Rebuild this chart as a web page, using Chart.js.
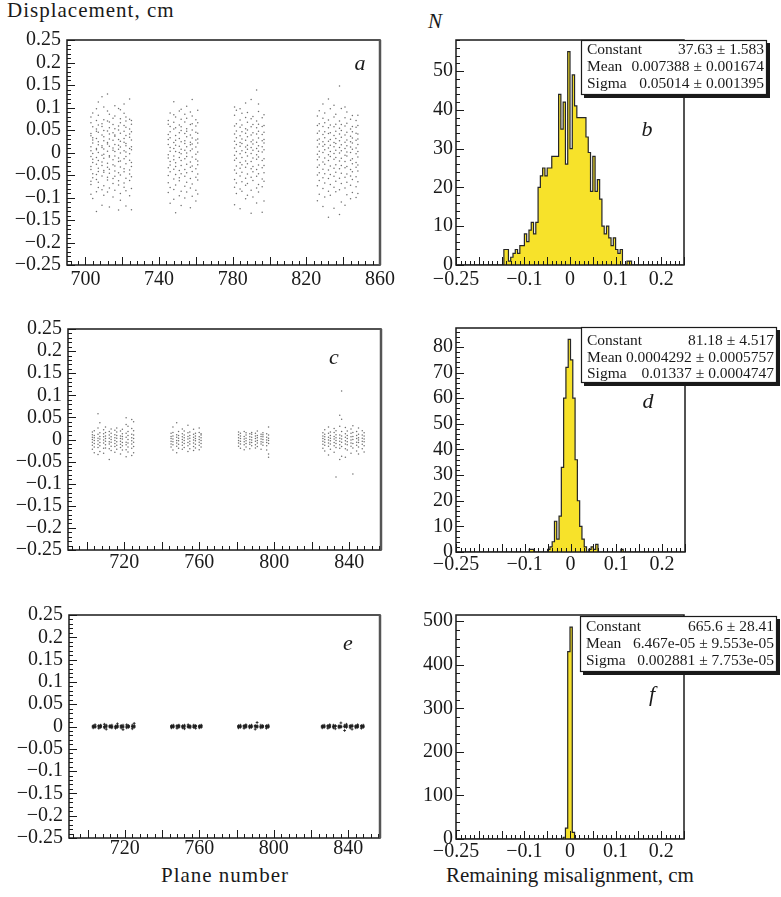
<!DOCTYPE html>
<html>
<head>
<meta charset="utf-8">
<script src="https://cdn.jsdelivr.net/npm/chart.js@4.4.0/dist/chart.umd.min.js"></script>
<style>
  body { margin: 0; width: 781px; height: 897px; position: relative; overflow: hidden; background: #fff;
         font-family: 'Liberation Serif', 'Times New Roman', serif; color: #1a1a1a; }
  canvas { position: absolute; }
  .lbl { position: absolute; font-size: 21px; line-height: 21px; white-space: nowrap; }
</style>
</head>
<body>
<div class="lbl" style="left:7px;top:0px;letter-spacing:1px">Displacement, cm</div>
<div class="lbl" style="left:428px;top:11px;font-style:italic">N</div>
<div class="lbl" style="left:0;width:450px;text-align:center;top:865px;letter-spacing:1px">Plane number</div>
<div class="lbl" style="left:400px;width:340px;text-align:center;top:865px">Remaining misalignment, cm</div>

<canvas id="pa" width="400" height="300" style="left:0;top:0"></canvas>
<canvas id="pb" width="381" height="300" style="left:400px;top:0"></canvas>
<canvas id="pc" width="400" height="290" style="left:0;top:300px"></canvas>
<canvas id="pd" width="381" height="290" style="left:400px;top:300px"></canvas>
<canvas id="pe" width="400" height="270" style="left:0;top:590px"></canvas>
<canvas id="pf" width="381" height="270" style="left:400px;top:590px"></canvas>

<script>
// plane numbers of the measured columns (same planes in a, c, e)
const planes = [
  703, 704, 706, 707, 709, 710, 712, 713, 715, 716, 718, 719, 721, 722, 724, 725,
  745, 746, 748, 749, 751, 752, 754, 755, 757, 758, 760, 761,
  781, 782, 784, 785, 787, 788, 790, 791, 793, 794, 796, 797,
  826, 827, 829, 830, 832, 833, 835, 836, 838, 839, 841, 842, 844, 845, 847, 848
];

// displacements per plane, in units of 0.001 cm
// (a) before alignment
const dispA = [
  [-93, -71, -64, -38, -31, -9, 4, 13, 37, 42, 66, 79],
  [-102, -56, -47, -22, -15, -2, 21, 28, 33, 57, 88],
  [-131, -87, -60, -49, -26, -11, 6, 9, 31, 47, 52, 71, 97],
  [-78, -66, -42, -35, -18, 0, 17, 24, 45, 61, 83, 112],
  [-117, -83, -52, -29, -21, -6, 11, 15, 39, 58, 64, 124],
  [-95, -74, -44, -40, -13, -4, 8, 26, 35, 49, 73, 101],
  [-88, -61, -55, -33, -24, 3, 19, 22, 48, 70, 92, 130],
  [-121, -79, -46, -37, -10, -7, 14, 30, 41, 55, 68, 85],
  [-99, -69, -58, -27, -16, 5, 10, 27, 44, 62, 76],
  [-84, -53, -41, -30, -8, 2, 18, 36, 39, 53, 81, 104],
  [-128, -72, -63, -45, -20, -12, 7, 16, 29, 50, 59, 98],
  [-106, -91, -50, -32, -19, -1, 12, 25, 43, 66, 75, 95],
  [-77, -68, -43, -36, -14, 4, 23, 31, 47, 60, 87, 108],
  [-119, -85, -57, -25, -9, 1, 15, 20, 38, 56, 70, 79],
  [-96, -62, -48, -39, -17, -3, 9, 34, 41, 52, 74, 119],
  [-127, -80, -54, -31, -22, 6, 13, 28, 46, 63, 71],
  [-89, -67, -51, -34, -12, -5, 18, 29, 40, 63, 71],
  [-113, -78, -43, -28, -20, 3, 11, 33, 46, 58, 88],
  [-104, -82, -59, -37, -16, -8, 9, 22, 52, 67, 84, 113],
  [-134, -72, -49, -31, -23, 2, 16, 27, 38, 55, 79],
  [-96, -63, -56, -40, -11, 0, 14, 31, 44, 61, 92],
  [-118, -86, -47, -29, -18, -3, 7, 24, 49, 57, 74, 96],
  [-101, -75, -53, -38, -14, 5, 20, 26, 42, 68, 85],
  [-88, -66, -45, -26, -9, -1, 13, 35, 47, 53, 76, 103],
  [-123, -79, -58, -33, -21, 4, 17, 23, 39, 62, 90],
  [-97, -70, -42, -30, -10, 8, 19, 32, 50, 64, 81, 118],
  [-108, -84, -55, -36, -15, -4, 12, 28, 45, 59, 73],
  [-92, -61, -48, -27, -19, 1, 21, 30, 43, 66, 94],
  [-116, -77, -60, -39, -17, -6, 10, 25, 41, 59, 83, 101],
  [-91, -68, -46, -30, -13, 2, 18, 33, 48, 64, 94],
  [-125, -81, -52, -35, -22, -3, 14, 22, 37, 56, 72, 97],
  [-86, -65, -44, -27, -11, 4, 20, 30, 46, 61, 87],
  [-103, -73, -57, -33, -19, 0, 12, 27, 43, 53, 78, 110],
  [-95, -69, -48, -25, -8, 7, 16, 35, 50, 67, 89],
  [-135, -84, -55, -36, -20, -2, 11, 24, 39, 57, 75, 118],
  [-99, -62, -43, -31, -12, 5, 19, 28, 44, 62, 80],
  [-112, -79, -53, -38, -15, -5, 9, 23, 41, 55, 70, 139],
  [-88, -71, -47, -28, -10, 3, 15, 32, 47, 63, 91, 108],
  [-133, -76, -59, -34, -18, 1, 13, 26, 40, 58, 77],
  [-108, -64, -45, -29, -14, 6, 21, 29, 45, 60, 84],
  [-107, -74, -50, -33, -16, -4, 12, 27, 43, 60, 81],
  [-93, -62, -45, -28, -10, 3, 19, 30, 48, 64, 93],
  [-120, -80, -56, -37, -21, 0, 14, 24, 40, 58, 76, 108],
  [-99, -68, -47, -26, -12, 6, 18, 33, 46, 66, 88],
  [-144, -86, -58, -39, -18, -5, 10, 25, 42, 55, 72, 119],
  [-95, -71, -49, -30, -9, 2, 16, 29, 44, 61, 97],
  [-124, -77, -53, -35, -15, -2, 13, 22, 38, 57, 79, 105],
  [-87, -64, -44, -27, -11, 5, 20, 31, 47, 63, 85],
  [-138, -83, -57, -36, -19, -1, 11, 26, 41, 54, 70, 148],
  [-110, -69, -46, -29, -13, 4, 17, 34, 49, 62, 98],
  [-117, -79, -55, -34, -20, -6, 9, 23, 39, 59, 77, 101],
  [-94, -66, -48, -31, -8, 1, 15, 28, 45, 65, 90],
  [-103, -73, -52, -38, -17, 0, 12, 24, 36, 52, 74],
  [-89, -60, -43, -25, -14, 7, 21, 32, 46, 58, 82],
  [-100, -76, -54, -33, -22, -3, 10, 27, 43, 56, 71],
  [-91, -65, -41, -28, -10, 2, 18, 30, 41, 60, 83]
];

// (c) after the first iteration
const dispC = [
  [-22, -13, -6, 0, 5, 11, 17],
  [-30, -17, -9, -2, 4, 9, 20],
  [-34, -18, -11, -3, 3, 12, 26, 58],
  [-27, -14, -7, 1, 7, 15, 38],
  [-31, -20, -8, -1, 6, 13, 22],
  [-19, -12, -4, 2, 8, 16, 28],
  [-45, -21, -10, -5, 3, 10, 18],
  [-25, -15, -6, 0, 6, 14, 24],
  [-29, -16, -9, -2, 4, 11, 21],
  [-22, -13, -5, 3, 9, 17, 26],
  [-33, -18, -11, -4, 2, 8, 19],
  [-24, -14, -7, 1, 7, 13, 23],
  [-39, -23, -12, -6, 5, 14, 34, 49],
  [-28, -17, -8, 0, 9, 18, 30],
  [-36, -20, -10, -3, 4, 12, 25, 45],
  [-30, -16, -6, 2, 10, 20, 40],
  [-17, -10, -4, 2, 7, 14],
  [-24, -12, -5, 1, 8, 16, 28],
  [-30, -15, -8, -2, 5, 11, 38],
  [-20, -11, -3, 3, 9, 18],
  [-22, -13, -6, 0, 6, 13, 24],
  [-18, -9, -2, 4, 10, 19],
  [-27, -14, -7, 1, 7, 15, 32],
  [-21, -10, -4, 3, 9, 17],
  [-25, -16, -8, -1, 5, 12, 23],
  [-19, -11, -3, 2, 8, 14],
  [-23, -13, -6, 0, 6, 16, 26],
  [-17, -9, -2, 4, 10, 13],
  [-15, -8, -2, 4, 11, 17],
  [-20, -10, -4, 2, 8, 14],
  [-23, -12, -5, 1, 7, 18],
  [-17, -9, -3, 3, 10, 15],
  [-21, -11, -6, 0, 6, 13],
  [-14, -7, -1, 5, 12, 16],
  [-19, -12, -4, 2, 8, 14],
  [-16, -8, -2, 4, 9, 19],
  [-22, -10, -5, 1, 7, 12],
  [-13, -6, 0, 6, 11, 15],
  [-24, -14, -7, -1, 5, 13],
  [-40, -33, -9, -2, 3, 10, 28],
  [-20, -11, -4, 2, 8, 15],
  [-26, -13, -6, 0, 6, 12, 22],
  [-35, -15, -8, -1, 5, 14, 28],
  [-22, -10, -3, 3, 9, 17],
  [-29, -14, -7, 1, 7, 16, 25],
  [-85, -18, -9, -2, 4, 11, 20],
  [-45, -20, -12, -4, 3, 10, 30, 55],
  [-38, -16, -6, 1, 8, 18, 46, 110],
  [-40, -21, -10, -3, 5, 13, 27],
  [-24, -12, -5, 2, 9, 19],
  [-31, -15, -8, -1, 6, 14, 24],
  [-78, -19, -9, 0, 7, 16, 31],
  [-26, -13, -6, 2, 9, 18],
  [-33, -17, -7, -1, 4, 12, 26],
  [-21, -11, -4, 3, 10, 20],
  [-28, -14, -5, 1, 8, 15]
];

// (e) after the final iteration
const dispE = [
  [-3, -1, 0, 2], [-2, 0, 1, 4], [-4, -1, 1, 2], [-2, 0, 2, 3],
  [-3, -1, 0, 5], [-6, -1, 1, 3], [-2, 0, 1, 2], [-3, -1, 0, 3],
  [-4, -2, 0, 1], [-2, 0, 2, 6], [-3, -1, 1, 2], [-7, -2, 0, 3],
  [-3, -1, 1, 4], [-2, 0, 1, 2], [-5, -1, 0, 3], [-2, 0, 2, 7],
  [-3, -1, 0, 2], [-2, 0, 1, 3], [-4, -1, 1, 2], [-2, 0, 2, 3],
  [-3, -1, 0, 2], [-5, -1, 1, 3], [-2, 0, 1, 4], [-3, -1, 0, 2],
  [-2, -1, 1, 3], [-4, 0, 1, 2], [-3, -1, 0, 2], [-2, 0, 2, 3],
  [-3, -1, 0, 2], [-2, 0, 1, 3], [-4, -1, 1, 2], [-2, 0, 2, 4],
  [-3, -1, 0, 2], [-2, 0, 1, 3], [-6, -1, 1, 2], [-2, 0, 2, 9],
  [-3, -1, 0, 3], [-2, 0, 1, 2], [-4, -1, 0, 2], [-2, 0, 1, 3],
  [-3, -1, 0, 2], [-2, 0, 1, 3], [-4, -1, 1, 2], [-2, 0, 2, 4],
  [-3, -1, 0, 3], [-5, 0, 1, 2], [-3, -1, 0, 2], [-2, 0, 1, 8],
  [-9, -1, 0, 3], [-2, 0, 2, 5], [-3, -1, 1, 2], [-6, 0, 1, 3],
  [-3, -1, 0, 2], [-2, 0, 2, 4], [-4, -1, 1, 2], [-2, 0, 1, 3]
];

// misalignment histograms: 100 bins of 0.005 cm from -0.25 to 0.25
const binLow = -0.25;
const binWidth = 0.005;
const countsB = [
  0, 0, 0, 0, 0, 0, 0, 0, 0, 0, 0, 0, 0, 0, 0, 0, 0, 0, 0, 0,
  0, 4, 4, 1, 2, 3, 4, 3, 5, 5, 8, 6, 9, 11, 8, 11, 20, 23, 25, 23,
  25, 25, 28, 28, 28, 44, 35, 42, 26, 55, 30, 49, 41, 38, 38, 38, 38, 33, 29, 19,
  28, 19, 22, 17, 10, 8, 10, 7, 5, 7, 4, 3, 4, 0, 0, 1, 1, 0, 0, 0,
  0, 0, 0, 0, 0, 0, 0, 0, 0, 0, 0, 0, 0, 0, 0, 0, 0, 0, 0, 0
];
const countsD = [
  0, 0, 0, 0, 0, 0, 0, 0, 0, 0, 0, 0, 0, 0, 0, 0, 0, 0, 0, 0,
  0, 0, 0, 0, 0, 0, 0, 0, 0, 0, 0, 0, 1, 1, 0, 0, 0, 0, 0, 0,
  1, 2, 4, 12, 5, 14, 33, 60, 72, 83, 75, 60, 36, 20, 10, 5, 2, 0, 1, 2,
  1, 3, 0, 0, 0, 0, 0, 0, 0, 0, 0, 0, 1, 0, 0, 0, 0, 0, 0, 0,
  0, 0, 0, 0, 0, 0, 0, 0, 0, 0, 0, 0, 0, 0, 0, 0, 0, 0, 0, 0
];
const countsF = [
  0, 0, 0, 0, 0, 0, 0, 0, 0, 0, 0, 0, 0, 0, 0, 0, 0, 0, 0, 0,
  0, 0, 0, 0, 0, 0, 0, 0, 0, 0, 0, 0, 0, 0, 0, 0, 0, 0, 0, 0,
  0, 0, 0, 0, 0, 0, 0, 4, 25, 430, 486, 15, 0, 0, 0, 0, 0, 0, 0, 0,
  0, 0, 0, 0, 0, 0, 0, 0, 0, 0, 0, 0, 0, 0, 0, 0, 0, 0, 0, 0,
  0, 0, 0, 0, 0, 0, 0, 0, 0, 0, 0, 0, 0, 0, 0, 0, 0, 0, 0, 0
];

// gaussian fit results
const fitB = [['Constant', '37.63 \u00b1 1.583'], ['Mean', '0.007388 \u00b1 0.001674'], ['Sigma', '0.05014 \u00b1 0.001395']];
const fitD = [['Constant', '81.18 \u00b1 4.517'], ['Mean', '0.0004292 \u00b1 0.0005757'], ['Sigma', '0.01337 \u00b1 0.0004747']];
const fitF = [['Constant', '665.6 \u00b1 28.41'], ['Mean', '6.467e-05 \u00b1 9.553e-05'], ['Sigma', '0.002881 \u00b1 7.753e-05']];

// tick labels
const dispTicks = [0.25, 0.2, 0.15, 0.1, 0.05, 0, -0.05, -0.1, -0.15, -0.2, -0.25];
const planeTicksA = [700, 740, 780, 820, 860];
const planeTicksCE = [720, 760, 800, 840];
const misTicks = [-0.25, -0.1, 0, 0.1, 0.2];
const countTicksB = [0, 10, 20, 30, 40, 50];
const countTicksD = [0, 10, 20, 30, 40, 50, 60, 70, 80];
const countTicksF = [0, 100, 200, 300, 400, 500];

const ink = '#1a1a1a';
const yellow = '#f7e22a';
Chart.defaults.font.family = "'Liberation Serif', 'Times New Roman', serif";

function seq(from, to, step) {
  const out = [];
  for (let v = from; v <= to + step / 1000; v += step) out.push(Math.round(v * 1e6) / 1e6);
  return out;
}

function fmt(v) {
  return v < 0 ? '\u2212' + String(-v) : String(v);
}

function toPoints(disp) {
  const pts = [];
  for (let i = 0; i < planes.length; i += 1) {
    for (const d of disp[i]) pts.push({x: planes[i], y: d / 1000});
  }
  return pts;
}

function toBins(counts) {
  return counts.map((c, i) => ({x: binLow + (i + 0.5) * binWidth, y: c}));
}

// ROOT style frame: inward ticks, box, fit statistics and panel letter
const rootFrame = {
  id: 'rootFrame',
  afterDraw(chart, args, o) {
    const {ctx, chartArea: a, scales: {x, y}} = chart;
    ctx.save();
    ctx.strokeStyle = ink;
    ctx.lineWidth = 1;
    ctx.beginPath();
    for (const [vals, len] of [[o.xMinor, 4], [o.xMajor, 8]]) {
      for (const v of vals) {
        const px = Math.round(x.getPixelForValue(v)) + 0.5;
        ctx.moveTo(px, a.bottom);
        ctx.lineTo(px, a.bottom - len);
      }
    }
    for (const [vals, len] of [[o.yMinor, 4], [o.yMajor, 8]]) {
      for (const v of vals) {
        const py = Math.round(y.getPixelForValue(v)) + 0.5;
        ctx.moveTo(a.left, py);
        ctx.lineTo(a.left + len, py);
      }
    }
    ctx.stroke();
    ctx.lineWidth = 1.5;
    ctx.strokeRect(a.left, a.top, a.right - a.left, a.bottom - a.top);
    if (o.thickRight) {
      ctx.strokeStyle = '#555';
      ctx.lineWidth = 2.5;
      ctx.beginPath();
      ctx.moveTo(a.right, a.top);
      ctx.lineTo(a.right, a.bottom);
      ctx.stroke();
      ctx.strokeStyle = ink;
    }

    if (o.stats) {
      const b = o.statBox;
      ctx.fillStyle = ink;
      ctx.fillRect(b.x + 3, b.y + 3, b.w, b.h);
      ctx.fillStyle = '#fff';
      ctx.fillRect(b.x, b.y, b.w, b.h);
      ctx.lineWidth = 1.2;
      ctx.strokeRect(b.x + 0.5, b.y + 0.5, b.w - 1, b.h - 1);
      ctx.fillStyle = ink;
      ctx.font = "15.5px 'Liberation Serif'";
      ctx.textBaseline = 'middle';
      o.stats.forEach((row, i) => {
        ctx.textAlign = 'left';
        ctx.fillText(row[0], b.x + 6, b.rows[i]);
        ctx.textAlign = 'right';
        ctx.fillText(row[1], b.x + b.w - 3, b.rows[i]);
      });
    }
    ctx.fillStyle = ink;
    ctx.font = "italic 22px 'Liberation Serif'";
    ctx.textAlign = 'center';
    ctx.textBaseline = 'middle';
    ctx.fillText(o.letter, o.letterAt[0], o.letterAt[1]);
    ctx.restore();
  }
};

function makePanel(id, box, dataset, o) {
  const cv = document.getElementById(id);
  const W = cv.width;
  const H = cv.height;
  const tickFont = {size: 20, lineHeight: 1};
  return new Chart(cv, {
    type: o.type,
    data: {datasets: [dataset]},
    options: {
      responsive: false,
      animation: false,
      devicePixelRatio: 1,
      layout: {padding: {left: 0, top: box.top, right: W - box.right, bottom: 0}},
      plugins: {legend: {display: false}, tooltip: {enabled: false}, rootFrame: o.frame},
      scales: {
        x: {
          type: 'linear', min: o.xMin, max: o.xMax,
          grid: {display: false, drawTicks: false}, border: {display: false},
          afterBuildTicks: s => { s.ticks = o.xLabels.map(v => ({value: v})); },
          afterFit: s => { s.height = H - box.bottom; },
          ticks: {autoSkip: false, maxRotation: 0, minRotation: 0, padding: o.xPad,
                  font: tickFont, color: ink, callback: v => fmt(v)}
        },
        y: {
          type: 'linear', min: o.yMin, max: o.yMax,
          grid: {display: false, drawTicks: false}, border: {display: false},
          afterBuildTicks: s => { s.ticks = o.yLabels.map(v => ({value: v})); },
          afterFit: s => { s.width = box.left; },
          ticks: {autoSkip: false, padding: o.yPad, font: tickFont, color: ink, callback: v => fmt(v)}
        }
      }
    },
    plugins: [rootFrame]
  });
}

function scatterSet(disp, style) {
  return {
    data: toPoints(disp),
    pointStyle: style.pointStyle || 'circle',
    pointRadius: style.radius,
    pointBorderWidth: style.border || 0,
    pointBackgroundColor: style.color,
    pointBorderColor: style.color
  };
}

function histSet(counts) {
  return {
    type: 'line',
    data: toBins(counts),
    stepped: 'middle',
    fill: 'origin',
    backgroundColor: yellow,
    borderColor: '#262626',
    borderWidth: 1.2,
    pointRadius: 0
  };
}

const dispMajor = seq(-0.25, 0.25, 0.05);
const dispMinor = seq(-0.25, 0.25, 0.01);
const misMajor = seq(-0.25, 0.25, 0.05);
const misMinor = seq(-0.25, 0.25, 0.01);
const dotStyle = {radius: 0.75, color: 'rgba(50,50,50,0.7)'};

// left column: displacement versus plane number
makePanel('pa', {left: 67, right: 380, top: 40, bottom: 265}, scatterSet(dispA, dotStyle), {
  type: 'scatter', xMin: 690, xMax: 860, yMin: -0.25, yMax: 0.25,
  xLabels: planeTicksA, yLabels: dispTicks, xPad: 5, yPad: 6,
  frame: {xMajor: seq(700, 860, 20), xMinor: seq(692, 860, 4), yMajor: dispMajor, yMinor: dispMinor,
          letter: 'a', letterAt: [360, 64], thickRight: true}
});
makePanel('pc', {left: 68, right: 381, top: 29, bottom: 250}, scatterSet(dispC, dotStyle), {
  type: 'scatter', xMin: 690, xMax: 857, yMin: -0.25, yMax: 0.25,
  xLabels: planeTicksCE, yLabels: dispTicks, xPad: 3, yPad: 6,
  frame: {xMajor: seq(700, 840, 20), xMinor: seq(692, 856, 4), yMajor: dispMajor, yMinor: dispMinor,
          letter: 'c', letterAt: [334, 58], thickRight: true}
});
makePanel('pe', {left: 69, right: 380, top: 25, bottom: 248},
  scatterSet(dispE, {radius: 1.4, pointStyle: 'cross', border: 1, color: 'rgba(30,30,30,0.85)'}), {
  type: 'scatter', xMin: 690, xMax: 857, yMin: -0.25, yMax: 0.25,
  xLabels: planeTicksCE, yLabels: dispTicks, xPad: 1, yPad: 6,
  frame: {xMajor: seq(700, 840, 20), xMinor: seq(692, 856, 4), yMajor: dispMajor, yMinor: dispMinor,
          letter: 'e', letterAt: [348, 54], thickRight: true}
});

// right column: distributions of the remaining misalignment
makePanel('pb', {left: 56, right: 284, top: 40, bottom: 265}, histSet(countsB), {
  type: 'line', xMin: -0.25, xMax: 0.25, yMin: 0, yMax: 58,
  xLabels: misTicks, yLabels: countTicksB, xPad: 5, yPad: 3,
  frame: {xMajor: misMajor, xMinor: misMinor, yMajor: countTicksB, yMinor: seq(0, 58, 2),
          letter: 'b', letterAt: [247, 130],
          stats: fitB, statBox: {x: 181, y: 40, w: 186, h: 55, rows: [50, 67, 84]}}
});
makePanel('pd', {left: 56, right: 285, top: 28, bottom: 252}, histSet(countsD), {
  type: 'line', xMin: -0.25, xMax: 0.25, yMin: 0, yMax: 87.4,
  xLabels: misTicks, yLabels: countTicksD, xPad: 3, yPad: 3,
  frame: {xMajor: misMajor, xMinor: misMinor, yMajor: countTicksD, yMinor: seq(0, 86, 2),
          letter: 'd', letterAt: [248, 102],
          stats: fitD, statBox: {x: 181, y: 27, w: 196, h: 56, rows: [41, 58, 74]}}
});
makePanel('pf', {left: 56, right: 284, top: 25, bottom: 249}, histSet(countsF), {
  type: 'line', xMin: -0.25, xMax: 0.25, yMin: 0, yMax: 514,
  xLabels: misTicks, yLabels: countTicksF, xPad: 3, yPad: 3,
  frame: {xMajor: misMajor, xMinor: misMinor, yMajor: countTicksF, yMinor: seq(0, 500, 20),
          letter: 'f', letterAt: [252, 105],
          stats: fitF, statBox: {x: 180, y: 26, w: 197, h: 56, rows: [37, 54, 71]}}
});
</script>
</body>
</html>
